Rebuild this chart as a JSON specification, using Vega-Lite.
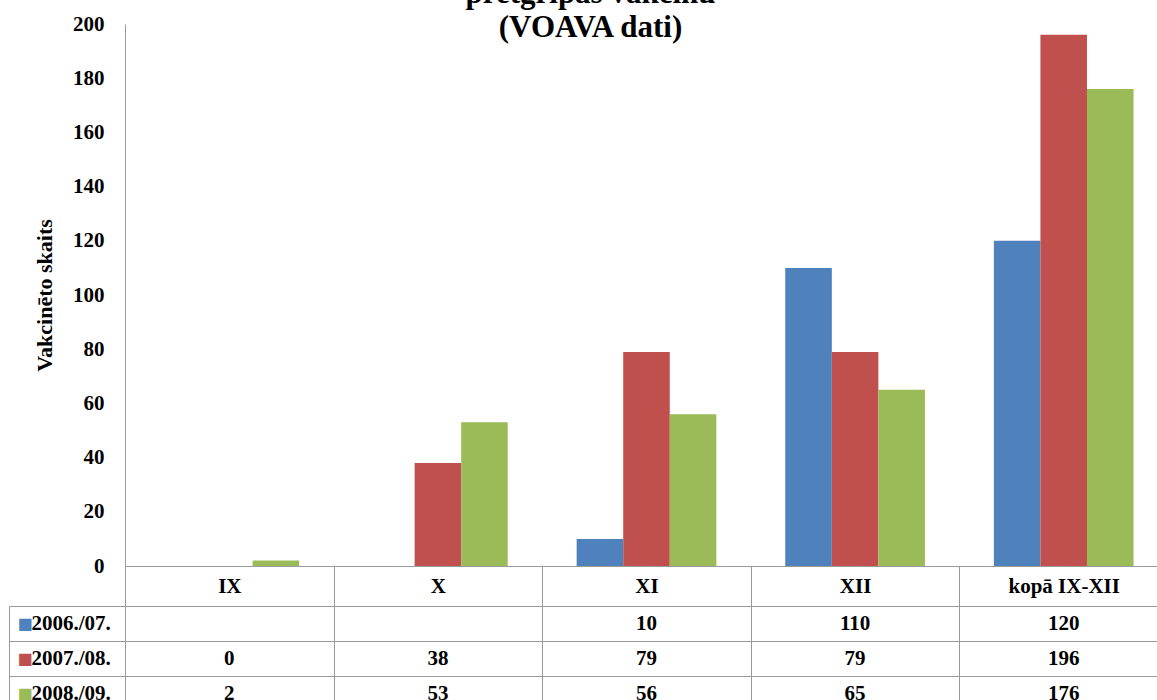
{
  "$schema": "https://vega.github.io/schema/vega-lite/v6.json",
  "background": "white",
  "padding": {"left": 8, "top": -22, "right": 0, "bottom": 0},
  "title": {
    "text": ["pretgripas vakcīnu", "(VOAVA dati)"],
    "font": "Liberation Serif",
    "fontSize": 31,
    "fontWeight": "bold",
    "lineHeight": 34,
    "anchor": "middle",
    "frame": "bounds",
    "offset": -31,
    "dx": 2,
    "color": "black"
  },
  "datasets": {
    "vals": [
      {"month": "IX", "season": "2007./08.", "value": 0},
      {"month": "IX", "season": "2008./09.", "value": 2},
      {"month": "X", "season": "2007./08.", "value": 38},
      {"month": "X", "season": "2008./09.", "value": 53},
      {"month": "XI", "season": "2006./07.", "value": 10},
      {"month": "XI", "season": "2007./08.", "value": 79},
      {"month": "XI", "season": "2008./09.", "value": 56},
      {"month": "XII", "season": "2006./07.", "value": 110},
      {"month": "XII", "season": "2007./08.", "value": 79},
      {"month": "XII", "season": "2008./09.", "value": 65},
      {"month": "kopā IX-XII", "season": "2006./07.", "value": 120},
      {"month": "kopā IX-XII", "season": "2007./08.", "value": 196},
      {"month": "kopā IX-XII", "season": "2008./09.", "value": 176}
    ]
  },
  "spacing": 40,
  "bounds": "flush",
  "resolve": {"scale": {"x": "independent", "y": "independent"}},
  "vconcat": [
    {
      "width": 1043,
      "height": 542,
      "data": {"name": "vals"},
      "mark": {"type": "bar"},
      "encoding": {
        "x": {
          "field": "month",
          "type": "nominal",
          "scale": {"domain": ["IX", "X", "XI", "XII", "kopā IX-XII"], "paddingInner": 0, "paddingOuter": 0},
          "axis": {
            "title": null,
            "labelAngle": 0,
            "labelFont": "Liberation Serif",
            "labelFontSize": 21,
            "labelFontWeight": "bold",
            "labelColor": "black",
            "labelBaseline": "middle",
            "labelPadding": -20,
            "tickBand": "extent",
            "tickSize": 40,
            "tickColor": "#9a9a9a",
            "domainColor": "#9a9a9a",
            "grid": false
          }
        },
        "xOffset": {
          "field": "season",
          "type": "nominal",
          "scale": {"domain": ["2006./07.", "2007./08.", "2008./09."], "paddingInner": 0, "paddingOuter": 0.74}
        },
        "y": {
          "field": "value",
          "type": "quantitative",
          "scale": {"domain": [0, 200]},
          "axis": {
            "title": "Vakcinēto skaits",
            "titleFont": "Liberation Serif",
            "titleFontSize": 22,
            "titleFontWeight": "bold",
            "titleColor": "black",
            "titlePadding": 16,
            "values": [0, 20, 40, 60, 80, 100, 120, 140, 160, 180, 200],
            "labelFont": "Liberation Serif",
            "labelFontSize": 21,
            "labelFontWeight": "bold",
            "labelColor": "black",
            "labelPadding": 21,
            "ticks": false,
            "grid": false,
            "domainColor": "#9a9a9a"
          }
        },
        "color": {
          "field": "season",
          "type": "nominal",
          "scale": {"domain": ["2006./07.", "2007./08.", "2008./09."], "range": ["#4F81BD", "#C0504D", "#9BBB59"]},
          "legend": null
        }
      }
    },
    {
      "width": 1043,
      "height": 105,
      "data": {"name": "vals"},
      "resolve": {"axis": {"y": "independent"}},
      "layer": [
        {
          "mark": {"type": "text", "font": "Liberation Serif", "fontSize": 21, "fontWeight": "bold", "color": "black"},
          "encoding": {
            "x": {
              "field": "month",
              "type": "nominal",
              "scale": {"domain": ["IX", "X", "XI", "XII", "kopā IX-XII"], "paddingInner": 0, "paddingOuter": 0},
              "axis": {
                "title": null,
                "labels": false,
                "ticks": false,
                "domain": false,
                "grid": true,
                "tickBand": "extent",
                "gridColor": "#9a9a9a",
                "gridOpacity": 1
              }
            },
            "y": {
              "field": "season",
              "type": "nominal",
              "scale": {"domain": ["2006./07.", "2007./08.", "2008./09."], "paddingInner": 0, "paddingOuter": 0},
              "axis": {
                "title": null,
                "orient": "left",
                "labelFont": "Liberation Serif",
                "labelFontSize": 21,
                "labelFontWeight": "bold",
                "labelColor": "black",
                "labelAlign": "left",
                "labelBaseline": "middle",
                "labelPadding": -22,
                "tickBand": "extent",
                "tickSize": 116,
                "tickColor": "#9a9a9a",
                "domainColor": "#9a9a9a",
                "grid": true,
                "gridColor": "#9a9a9a",
                "gridOpacity": 1
              }
            },
            "text": {"field": "value", "type": "quantitative"}
          }
        },
        {
          "mark": {"type": "text", "opacity": 0},
          "encoding": {
            "x": {
              "field": "month",
              "type": "nominal",
              "scale": {"domain": ["IX", "X", "XI", "XII", "kopā IX-XII"], "paddingInner": 0, "paddingOuter": 0}
            },
            "y": {
              "field": "season",
              "type": "nominal",
              "scale": {"domain": ["2006./07.", "2007./08.", "2008./09."], "paddingInner": 0, "paddingOuter": 0},
              "axis": {
                "title": null,
                "orient": "left",
                "offset": 116,
                "labelExpr": "'■'",
                "labelFont": "DejaVu Sans",
                "labelFontSize": 16,
                "labelColor": {"expr": "datum.value === '2006./07.' ? '#4F81BD' : datum.value === '2007./08.' ? '#C0504D' : '#9BBB59'"},
                "labelAlign": "left",
                "labelBaseline": "middle",
                "labelPadding": -8,
                "ticks": false,
                "grid": false,
                "domainColor": "#9a9a9a"
              }
            },
            "text": {"field": "value", "type": "quantitative"}
          }
        }
      ]
    }
  ],
  "config": {
    "view": {"stroke": null},
    "font": "Liberation Serif",
    "title": {"font": "Liberation Serif"}
  }
}
